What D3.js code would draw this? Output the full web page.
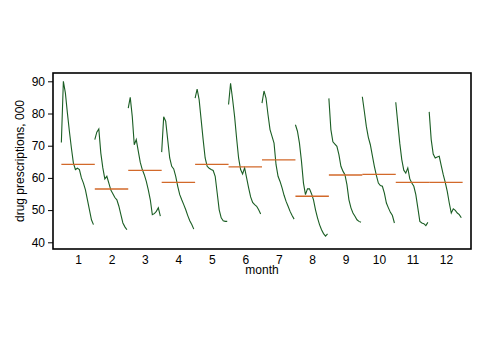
<!DOCTYPE html>
<html>
<head>
<meta charset="utf-8">
<script src="https://cdn.jsdelivr.net/npm/d3@7"></script>
<style>
  html,body{margin:0;padding:0;background:#fff;}
  svg{display:block;font-family:"Liberation Sans",Arial,sans-serif;}
</style>
</head>
<body>
<div id="chart"></div>
<script>
/* ---------- DATA ---------- */
const MONTHS = [1,2,3,4,5,6,7,8,9,10,11,12];
const M1  = [71,90,86.4,80.2,74.5,69.3,64.6,62.6,63,62.6,60,58.4,56.3,53.2,50.1,47,45.5];
const M2  = [71.9,74.2,75.2,67.7,63.1,59.7,60.5,58.4,56.2,55.1,53.9,53.2,51.2,48.6,46,44.8,43.9];
const M3  = [81.7,85,79.1,70.3,71.9,68.3,64.8,62.6,61,58.9,56.3,53.2,48.6,48.9,49.6,50.7,48.1];
const M4  = [68,79,77.6,71.9,66.2,63.6,62.8,60.5,57.4,54.8,53.2,51.7,50.1,48.3,46.7,45.5,44.1];
const M5  = [84.8,87.6,84.3,78.1,71.9,66.2,63.6,63,62.6,62.3,60.5,55.3,50.1,47.6,46.7,46.5,46.5];
const M6  = [82.8,89.4,84.5,79.1,72.4,66.2,62.6,61.2,63.1,60,56.9,54.1,52.4,51.7,51.2,50.1,48.8];
const M7  = [83.2,87,84.8,79.6,75,72.9,70.8,64.1,60.5,58.9,56.9,54.6,52.7,51.2,49.6,48.3,47.2];
const M8  = [76.5,74.5,70.8,65.2,58.4,54.8,56.6,56.6,55.1,53.2,50.1,47.6,45.5,43.9,42.7,41.9,42.6];
const M9  = [84.7,75,71.2,70.5,69.8,67.2,63.6,62.1,61,57.9,53.2,50.7,49.1,48.1,47,46.5,46.2];
const M10 = [85.2,80.7,76,72.6,70.3,66.9,63.6,60.8,58.4,57.6,57.4,55.3,52.2,50.7,49.3,48.3,46];
const M11 = [83.5,77.1,70.8,65.7,62.4,61.5,63.1,59.7,58.4,57.4,54.8,50.7,46.5,46,45.8,45.2,46.2];
const M12 = [80.5,71.9,67.4,66.2,66.5,66.7,63.8,61,58.6,55.8,52.2,49.1,50.4,49.9,49.1,48.6,47.6];
const SERIES = [M1,M2,M3,M4,M5,M6,M7,M8,M9,M10,M11,M12];
const MEANS = [64.2,56.55,62.35,58.6,64.2,63.4,65.6,54.3,60.9,61.1,58.6,58.6];
const Y_TICKS = [40,50,60,70,80,90];

/* ---------- LAYOUT ---------- */
const W=484, H=352;
const PL=53, PR=471, PT=73, PB=249;
const GREEN="#1b5e24", ORANGE="#d2692a";

const svg=d3.select("#chart").append("svg").attr("width",W).attr("height",H);

const x=d3.scaleLinear().domain([0.25,12.75]).range([PL,PR]);
const y=d3.scaleLinear().domain([37.92,92.58]).range([PB,PT]);
// position of a year inside its month slot
const inner=d3.scaleLinear().domain([0,16]).range([-0.5,0.46]);

const line=d3.line().x(d=>x(d.m+inner(d.i))).y(d=>y(d.v));

/* green subseries */
svg.append("g").selectAll("path").data(SERIES).join("path")
  .attr("fill","none").attr("stroke",GREEN).attr("stroke-width",1.1)
  .attr("d",(s,j)=>line(s.map((v,i)=>({m:MONTHS[j],i,v}))));

/* orange mean lines */
svg.append("g").selectAll("line").data(MEANS).join("line")
  .attr("x1",(d,j)=>x(MONTHS[j]-0.5)).attr("x2",(d,j)=>x(MONTHS[j]+0.5))
  .attr("y1",d=>y(d)).attr("y2",d=>y(d))
  .attr("stroke",ORANGE).attr("stroke-width",1.3);

/* frame */
svg.append("rect").attr("x",PL).attr("y",PT).attr("width",PR-PL).attr("height",PB-PT)
  .attr("fill","none").attr("stroke","#000").attr("stroke-width",1.6);

/* y axis */
const yAx=svg.append("g").attr("transform",`translate(${PL},0)`)
  .call(d3.axisLeft(y).tickValues(Y_TICKS).tickSize(5).tickPadding(3));
yAx.select(".domain").remove();
yAx.selectAll("text").attr("font-size",12).attr("fill","#000").attr("font-family",null);
yAx.selectAll("line").attr("stroke","#000");

/* x axis (labels only) */
const xAx=svg.append("g").attr("transform",`translate(0,${PB})`)
  .call(d3.axisBottom(x).tickValues(MONTHS).tickSize(0).tickPadding(6));
xAx.select(".domain").remove();
xAx.selectAll("text").attr("font-size",12).attr("fill","#000").attr("font-family",null);

/* titles */
svg.append("text").attr("x",(PL+PR)/2).attr("y",274).attr("text-anchor","middle")
  .attr("font-size",12).text("month");
svg.append("text").attr("transform",`translate(24,${(PT+PB)/2}) rotate(-90)`)
  .attr("text-anchor","middle").attr("font-size",12).text("drug prescriptions, 000");
</script>
</body>
</html>
